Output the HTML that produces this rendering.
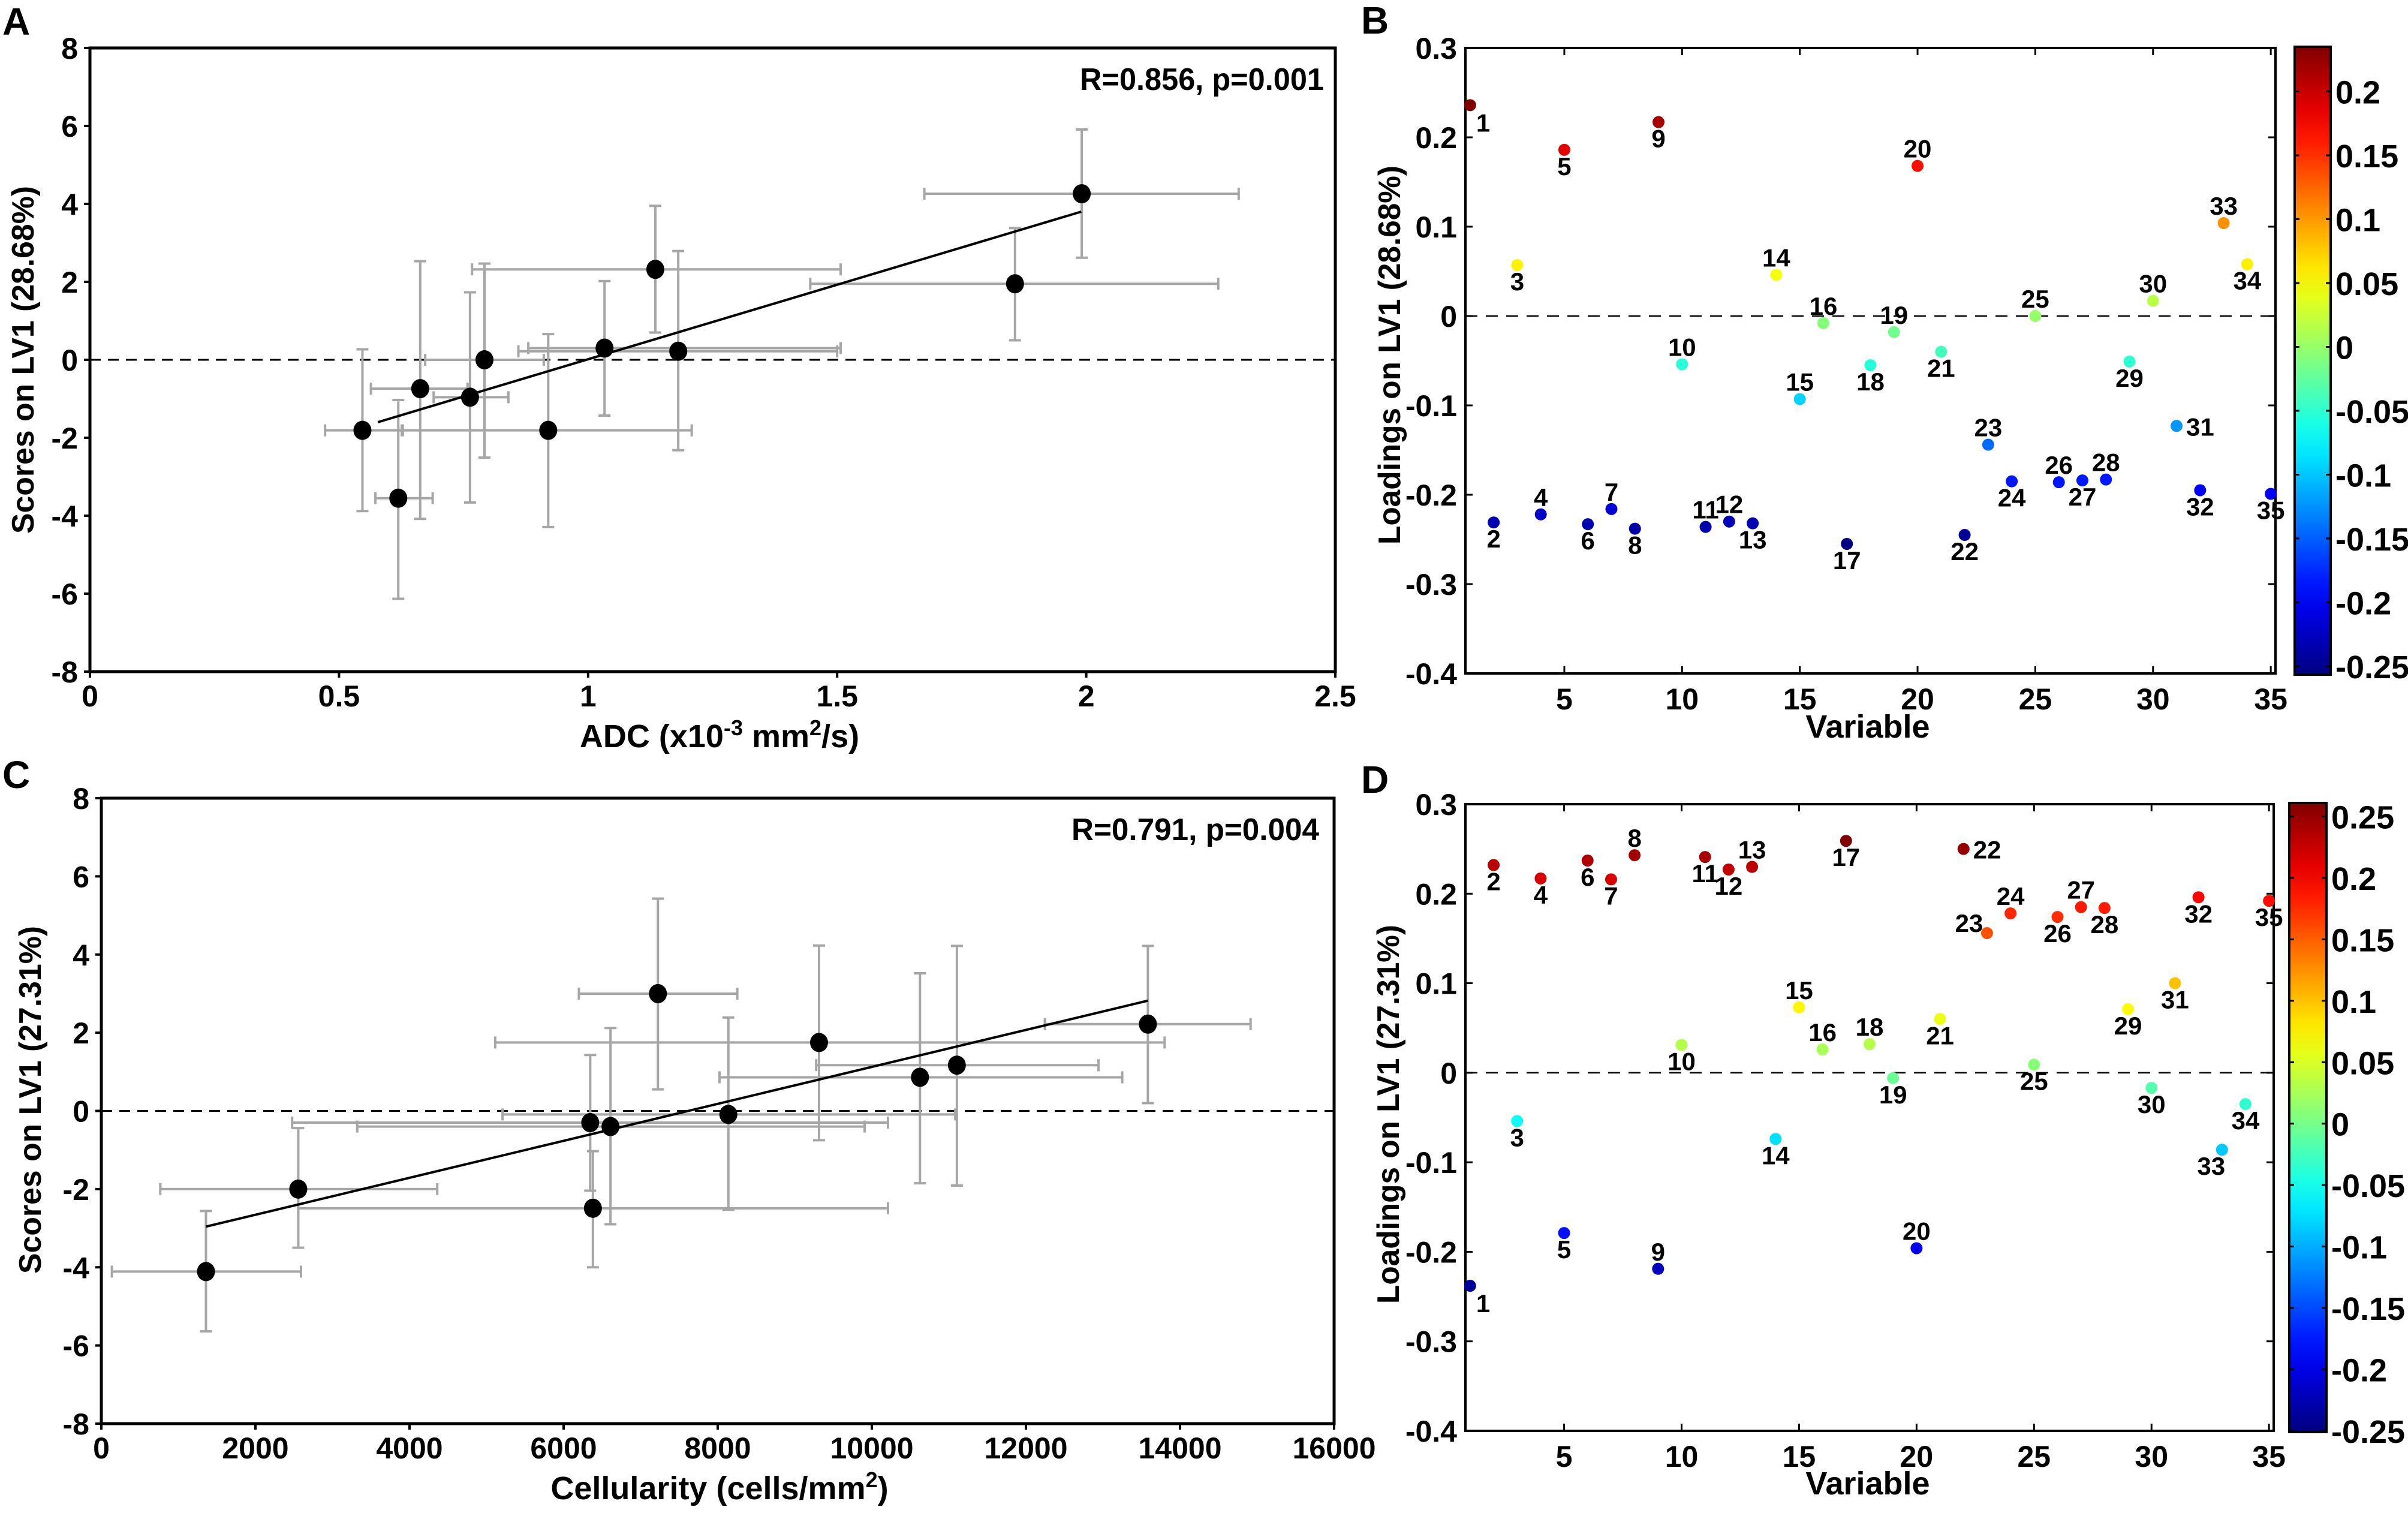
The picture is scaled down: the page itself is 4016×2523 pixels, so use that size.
<!DOCTYPE html>
<html><head><meta charset="utf-8"><style>
html,body{margin:0;padding:0;background:#fff;}
svg{display:block;}
text{font-family:"Liberation Sans Narrow","Liberation Sans",sans-serif;font-weight:bold;fill:#000;}
.wide{font-family:"Liberation Sans",sans-serif;}
</style></head><body>
<svg id="fig" xmlns="http://www.w3.org/2000/svg" width="4016" height="2523" viewBox="0 0 4016 2523">
<defs>
<linearGradient id="jetB" x1="0" y1="1" x2="0" y2="0"></linearGradient>
<linearGradient id="jetD" x1="0" y1="1" x2="0" y2="0"></linearGradient>
</defs>
<g id="gA"></g>
<g id="gB"></g>
<g id="gC"></g>
<g id="gD"></g>
</svg>
<script>
// ---- Panel A data (ADC vs scores) ----
const A_x   = [0.547, 0.619, 0.663, 0.763, 0.792, 0.920, 1.033, 1.135, 1.181, 1.857, 1.991];
const A_y   = [-1.81, -3.55, -0.74, -0.96, 0.0, -1.81, 0.30, 2.32, 0.22, 1.95, 4.26];
const A_xlo = [0.472, 0.573, 0.564, 0.690, 0.673, 0.626, 0.880, 0.767, 0.860, 1.446, 1.675];
const A_xhi = [0.628, 0.688, 0.758, 0.840, 0.911, 1.208, 1.507, 1.507, 1.500, 2.265, 2.306];
const A_ylo = [-3.88, -6.13, -4.08, -3.66, -2.51, -4.29, -1.43, 0.70, -2.32, 0.50, 2.62];
const A_yhi = [0.27, -1.03, 2.53, 1.73, 2.47, 0.66, 2.02, 3.95, 2.79, 3.38, 5.91];
const A_fitX = [0.578, 1.99];
const A_fitY = [-1.6, 3.8];
const A_xticks = [0, 0.5, 1, 1.5, 2, 2.5];
const A_xtickLabels = ["0","0.5","1","1.5","2","2.5"];
const A_yticks = [8,6,4,2,0,-2,-4,-6,-8];

// ---- Panel C data (cellularity vs scores) ----
const C_x   = [1358, 2556, 6345, 6380, 6608, 7224, 8138, 9315, 10625, 11104, 13583];
const C_y   = [-4.11, -2.0, -0.3, -2.49, -0.4, 3.0, -0.09, 1.75, 0.86, 1.17, 2.22];
const C_xlo = [137, 765, 2476, 2556, 3321, 6198, 5207, 5112, 8023, 9278, 12246];
const C_xhi = [2591, 4360, 10210, 10210, 9907, 8254, 11083, 13800, 13250, 12942, 14916];
const C_ylo = [-5.64, -3.50, -2.04, -4.0, -2.9, 0.55, -2.53, -0.75, -1.85, -1.91, 0.2];
const C_yhi = [-2.56, -0.44, 1.43, -1.03, 2.12, 5.43, 2.39, 4.23, 3.52, 4.22, 4.22];
const C_fitX = [1358, 13583];
const C_fitY = [-2.96, 2.82];
const C_xticks = [0,2000,4000,6000,8000,10000,12000,14000,16000];
const C_yticks = [8,6,4,2,0,-2,-4,-6,-8];

// ---- Panel B / D loadings ----
const B_load = [0.236,-0.231,0.057,-0.222,0.186,-0.233,-0.216,-0.238,0.217,-0.054,
 -0.236,-0.230,-0.232,0.046,-0.093,-0.008,-0.255,-0.055,-0.018,0.168,
 -0.040,-0.245,-0.144,-0.185,0.0,-0.186,-0.184,-0.183,-0.051,0.017,
 -0.123,-0.195,0.104,0.058,-0.199];
const D_load = [-0.238,0.232,-0.054,0.217,-0.179,0.237,0.216,0.243,-0.219,0.031,
 0.241,0.227,0.230,-0.074,0.073,0.026,0.259,0.032,-0.006,-0.196,
 0.060,0.250,0.156,0.178,0.009,0.174,0.185,0.184,0.071,-0.017,
 0.100,0.196,-0.086,-0.035,0.192];
const B_labelPos = ["br","b","b","a","b","b","a","b","b","a","a","a","b","a","a","a","b","b","a","a","b","b","a","b","a","a","b","a","b","a","r","b","a","b","b"];
const D_labelPos = ["br","b","b","b","b","b","b","a","a","b","b","b","a","b","a","a","b","a","b","a","b","r","al","a","b","b","a","b","b","b","b","b","bl","b","b"];
const L_xticks = [5,10,15,20,25,30,35];
const L_yticks = [0.3,0.2,0.1,0,-0.1,-0.2,-0.3,-0.4];
const L_ytickLabels = ["0.3","0.2","0.1","0","-0.1","-0.2","-0.3","-0.4"];
const B_cbTicks = [0.2,0.15,0.1,0.05,0,-0.05,-0.1,-0.15,-0.2,-0.25];
const D_cbTicks = [0.25,0.2,0.15,0.1,0.05,0,-0.05,-0.1,-0.15,-0.2,-0.25];

const NS = "http://www.w3.org/2000/svg";
function mk(parent, tag, attrs, txt){
  const e = document.createElementNS(NS, tag);
  for (const k in attrs) e.setAttribute(k, attrs[k]);
  if (txt !== undefined) e.textContent = txt;
  parent.appendChild(e);
  return e;
}
function lin(d0,d1,r0,r1){ return v => r0 + (v-d0)/(d1-d0)*(r1-r0); }
function jet(t){
  t = Math.max(0, Math.min(1, t));
  const c = x => Math.round(255*Math.max(0, Math.min(1, x)));
  return "rgb("+c(1.5-Math.abs(4*t-3))+","+c(1.5-Math.abs(4*t-2))+","+c(1.5-Math.abs(4*t-1))+")";
}
function fmtTick(v){ return String(v); }

function scatterPanel(g, cfg){
  const X = lin(cfg.xd[0], cfg.xd[1], cfg.L, cfg.R);
  const Y = lin(cfg.yd[0], cfg.yd[1], cfg.B, cfg.T);
  const z = mk(g,"line",{x1:cfg.L,x2:cfg.R,y1:Y(0),y2:Y(0),stroke:"#000","stroke-width":3,"stroke-dasharray":"18,12"});
  
  
  const cap = 10;
  for (let i=0;i<cfg.x.length;i++){
    const eb = mk(g,"g",{stroke:"#a6a6a6","stroke-width":4,fill:"none"});
    
    
    const px=X(cfg.x[i]), py=Y(cfg.y[i]);
    mk(eb,"line",{x1:X(cfg.xlo[i]),x2:X(cfg.xhi[i]),y1:py,y2:py});
    mk(eb,"line",{x1:X(cfg.xlo[i]),x2:X(cfg.xlo[i]),y1:py-cap,y2:py+cap});
    mk(eb,"line",{x1:X(cfg.xhi[i]),x2:X(cfg.xhi[i]),y1:py-cap,y2:py+cap});
    mk(eb,"line",{x1:px,x2:px,y1:Y(cfg.ylo[i]),y2:Y(cfg.yhi[i])});
    mk(eb,"line",{x1:px-cap,x2:px+cap,y1:Y(cfg.ylo[i]),y2:Y(cfg.ylo[i])});
    mk(eb,"line",{x1:px-cap,x2:px+cap,y1:Y(cfg.yhi[i]),y2:Y(cfg.yhi[i])});
  }
  const f = mk(g,"line",{x1:X(cfg.fx[0]),y1:Y(cfg.fy[0]),x2:X(cfg.fx[1]),y2:Y(cfg.fy[1]),stroke:"#000","stroke-width":4});
  
  
  for (let i=0;i<cfg.x.length;i++){
    const c = mk(g,"ellipse",{cx:X(cfg.x[i]),cy:Y(cfg.y[i]),rx:15,ry:16,fill:"#000"});
    
    
  }
  const fr = mk(g,"rect",{x:cfg.L,y:cfg.T,width:cfg.R-cfg.L,height:cfg.B-cfg.T,fill:"none",stroke:"#000","stroke-width":5});
  
  
  cfg.xticks.forEach((v,i)=>{
    mk(g,"line",{x1:X(v),x2:X(v),y1:cfg.B,y2:cfg.B+10,stroke:"#000","stroke-width":4});
    const t = mk(g,"text",{x:X(v),y:cfg.B+58,"text-anchor":"middle","font-size":50},cfg.xlabels[i]);
    
    
  });
  cfg.yticks.forEach(v=>{
    mk(g,"line",{x1:cfg.L-10,x2:cfg.L,y1:Y(v),y2:Y(v),stroke:"#000","stroke-width":4});
    const t = mk(g,"text",{x:cfg.L-20,y:Y(v)+18,"text-anchor":"end","font-size":50},fmtTick(v));
    
    
  });
}

function loadPanel(g, cfg){
  const X = lin(0.8, 35.2, cfg.L, cfg.R);
  const Y = lin(-0.4, 0.3, cfg.B, cfg.T);
  const C = v => jet((v-cfg.cl[0])/(cfg.cl[1]-cfg.cl[0]));
  const z = mk(g,"line",{x1:cfg.L,x2:cfg.R,y1:Y(0),y2:Y(0),stroke:"#000","stroke-width":2.5,"stroke-dasharray":"20,14"});
  
  
  const fr = mk(g,"rect",{x:cfg.L,y:cfg.T,width:cfg.R-cfg.L,height:cfg.B-cfg.T,fill:"none",stroke:"#000","stroke-width":4});
  
  
  L_xticks.forEach(v=>{
    mk(g,"line",{x1:X(v),x2:X(v),y1:cfg.B,y2:cfg.B-12,stroke:"#000","stroke-width":3});
    mk(g,"line",{x1:X(v),x2:X(v),y1:cfg.T,y2:cfg.T+12,stroke:"#000","stroke-width":3});
    const t = mk(g,"text",{x:X(v),y:cfg.B+60,"text-anchor":"middle","font-size":50},String(v));
    
    
  });
  L_yticks.forEach((v,i)=>{
    mk(g,"line",{x1:cfg.L,x2:cfg.L+12,y1:Y(v),y2:Y(v),stroke:"#000","stroke-width":3});
    mk(g,"line",{x1:cfg.R,x2:cfg.R-12,y1:Y(v),y2:Y(v),stroke:"#000","stroke-width":3});
    const t = mk(g,"text",{x:cfg.L-14,y:Y(v)+18,"text-anchor":"end","font-size":50},L_ytickLabels[i]);
    
    
  });
  cfg.vals.forEach((v,i)=>{
    const px = X(i+1), py = Y(v);
    const c = mk(g,"circle",{cx:px,cy:py,r:10,fill:C(v)});
    
    
    let dx=0, dy=42, anc="middle";
    const p = cfg.pos[i];
    if (p==="a"){ dy=-14; }
    else if (p==="br"){ dx=10; dy=44; anc="start"; }
    else if (p==="bl"){ dx=-18; dy=42; }
    else if (p==="r"){ dx=16; dy=16; anc="start"; }
    else if (p==="al"){ dx=-30; dy=-2; }
    const t = mk(g,"text",{x:px+dx,y:py+dy,"text-anchor":anc,"font-size":42},String(i+1));
    
    
  });
  const grad = document.getElementById(cfg.gid);
  for (let k=0;k<=20;k++){
    mk(grad,"stop",{offset:(k/20),"stop-color":jet(k/20)});
  }
  const cb = mk(g,"rect",{x:cfg.cbL,y:cfg.T-2,width:cfg.cbW,height:cfg.B-cfg.T+4,fill:"url(#"+cfg.gid+")",stroke:"#000","stroke-width":4});
  
  
  const CY = lin(cfg.cl[0], cfg.cl[1], cfg.B+2, cfg.T-2);
  cfg.cbt.forEach(v=>{
    mk(g,"line",{x1:cfg.cbL,x2:cfg.cbL+8,y1:CY(v),y2:CY(v),stroke:"#000","stroke-width":3});
    mk(g,"line",{x1:cfg.cbL+cfg.cbW,x2:cfg.cbL+cfg.cbW-8,y1:CY(v),y2:CY(v),stroke:"#000","stroke-width":3});
    const t = mk(g,"text",{x:cfg.cbL+cfg.cbW+8,y:CY(v)+20,"font-size":54},String(v));
    
    
  });
}

function titles(g, o){
  const pl = mk(g,"text",{x:o.lx,y:o.ly,"font-size":64,class:"wide"},o.letter);
  
  
  const xt = mk(g,"text",{x:o.xtx,y:o.xty,"text-anchor":"middle","font-size":54});
  
  
  xt.innerHTML = o.xtitle;
  const yt = mk(g,"text",{x:0,y:0,"text-anchor":"middle","font-size":52,class:"wide",transform:"translate("+o.ytx+","+o.yty+") rotate(-90)",textLength:o.ytl,lengthAdjust:"spacingAndGlyphs"},o.ytitle);
  
  
  if (o.ann){
    const an = mk(g,"text",{x:o.annx,y:o.anny,"text-anchor":"end","font-size":52,textLength:o.annl,lengthAdjust:"spacingAndGlyphs"},o.ann);
    
    
  }
}

const gA=document.getElementById("gA"), gB=document.getElementById("gB"), gC=document.getElementById("gC"), gD=document.getElementById("gD");

scatterPanel(gA,{L:150,R:2227,T:80,B:1120,xd:[0,2.5],yd:[-8,8],x:A_x,y:A_y,xlo:A_xlo,xhi:A_xhi,ylo:A_ylo,yhi:A_yhi,fx:A_fitX,fy:A_fitY,xticks:A_xticks,xlabels:A_xtickLabels,yticks:A_yticks});
titles(gA,{letter:"A",lx:4,ly:58,xtx:1200,xty:1246,xtitle:'ADC (x10<tspan dy="-20" font-size="36">-3</tspan><tspan dy="20"> mm</tspan><tspan dy="-20" font-size="36">2</tspan><tspan dy="20">/s)</tspan>',ytx:56,yty:600,ytl:580,ytitle:"Scores on LV1 (28.68%)",ann:"R=0.856, p=0.001",annx:2208,anny:150,annl:407});

scatterPanel(gC,{L:169,R:2225,T:1331,B:2374,xd:[0,16000],yd:[-8,8],x:C_x,y:C_y,xlo:C_xlo,xhi:C_xhi,ylo:C_ylo,yhi:C_yhi,fx:C_fitX,fy:C_fitY,xticks:C_xticks,xlabels:C_xticks.map(String),yticks:C_yticks});
titles(gC,{letter:"C",lx:4,ly:1314,xtx:1200,xty:2500,xtitle:'Cellularity (cells/mm<tspan dy="-20" font-size="36">2</tspan><tspan dy="20">)</tspan>',ytx:68,yty:1834,ytl:580,ytitle:"Scores on LV1 (27.31%)",ann:"R=0.791, p=0.004",annx:2200,anny:1401,annl:413});

loadPanel(gB,{L:2444,R:3795,T:80,B:1123,vals:B_load,pos:B_labelPos,cl:[-0.2566,0.235],cbL:3827,cbW:60,cbt:B_cbTicks,gid:"jetB"});
titles(gB,{letter:"B",lx:2270,ly:56,xtx:3115,xty:1230,xtitle:"Variable",ytx:2335,yty:592,ytl:632,ytitle:"Loadings on LV1 (28.68%)"});

loadPanel(gD,{L:2444,R:3792,T:1341,B:2386,vals:D_load,pos:D_labelPos,cl:[-0.251,0.261],cbL:3818,cbW:62,cbt:D_cbTicks,gid:"jetD"});
titles(gD,{letter:"D",lx:2270,ly:1322,xtx:3115,xty:2492,xtitle:"Variable",ytx:2333,yty:1858,ytl:632,ytitle:"Loadings on LV1 (27.31%)"});
</script>
</body></html>
